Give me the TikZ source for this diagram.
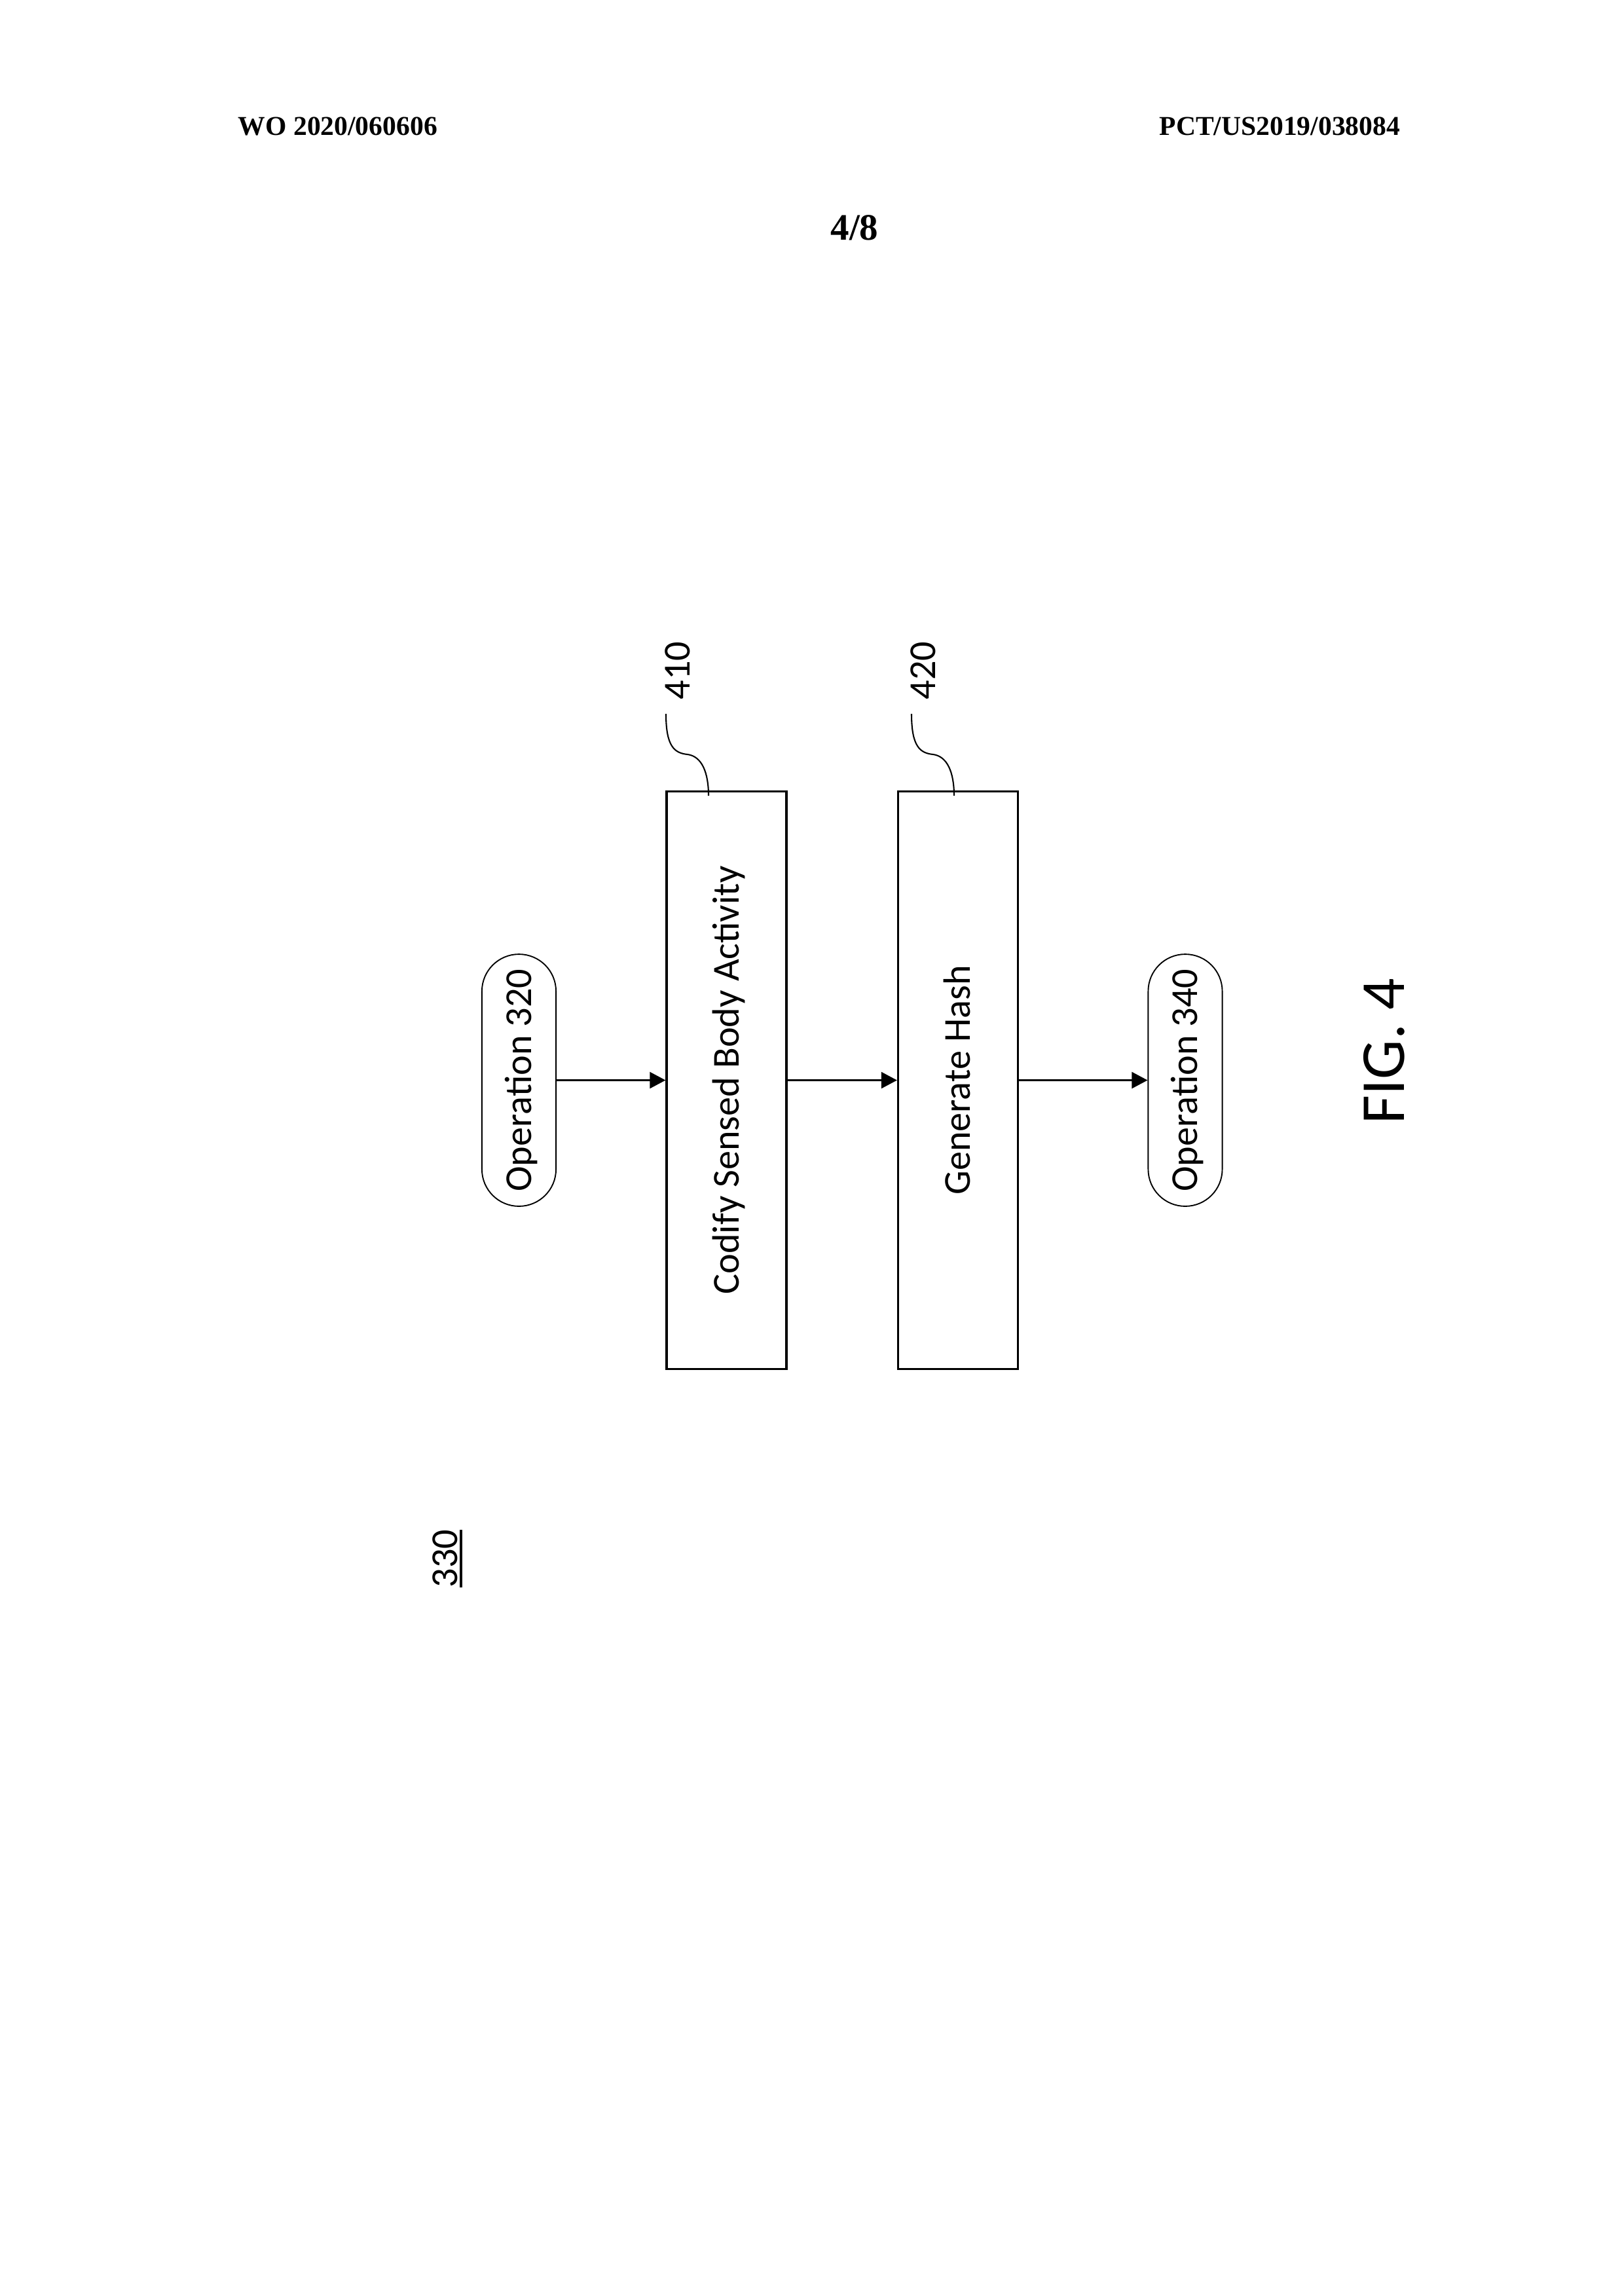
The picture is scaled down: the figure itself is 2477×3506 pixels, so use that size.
\documentclass[tikz,border=0pt]{standalone}
\usepackage{fontspec}
\setmainfont{Carlito}
\newfontfamily\hdrfont{Liberation Serif}
\usetikzlibrary{arrows.meta}

% underlined reference numeral
\newcommand{\ulnum}[1]{{\setbox0\hbox{#1}\rlap{\rule[-2pt]{\wd0}{0.95pt}}\box0}}

\tikzset{
  stepbox/.style={draw, line width=0.75pt, rotate=90, minimum width=212pt, minimum height=44pt,
    inner sep=0pt, text height=9pt, text depth=0pt},
  oppill/.style={draw, line width=0.45pt, rotate=90, rounded corners=13.6pt, minimum width=92.5pt,
    minimum height=27.2pt, inner sep=0pt, text height=9pt, text depth=0pt},
  flow/.style={-{Triangle[length=5.8pt,width=6pt]}, line width=0.65pt},
  leader/.style={line width=0.5pt},
  reflabel/.style={rotate=90, anchor=base, inner sep=0pt},
  header/.style={inner sep=0pt, font=\hdrfont\bfseries\fontsize{10pt}{12pt}\selectfont},
}

\begin{document}
\begin{tikzpicture}[x=0.24034pt, y=-0.24034pt, font=\fontsize{14pt}{17pt}\selectfont]
  \useasboundingbox (0,0) rectangle (2477,3506);

  % page header
  \node[header, anchor=base west] (wo) at (363,206) {WO 2020/060606};
  \node[header, anchor=base east] (pct) at (2139,206) {PCT/US2019/038084};
  \node[header, anchor=base, font=\hdrfont\bfseries\fontsize{13.7pt}{16pt}\selectfont] (sheet) at (1305,366) {4/8};

  % flow
  \node[oppill] (op320) at (792.5,1649.5) {Operation 320};
  \node[stepbox] (codify) at (1109.5,1649.5) {Codify Sensed Body Activity};
  \node[stepbox] (hash) at (1463,1649.5) {Generate Hash};
  \node[oppill] (op340) at (1810,1649.5) {Operation 340};

  \draw[flow] (op320.south) -- (codify.north);
  \draw[flow] (codify.south) -- (hash.north);
  \draw[flow] (hash.south) -- (op340.north);

  % reference numerals
  \node[reflabel] (n410) at (1053,1024) {410};
  \node[reflabel] (n420) at (1428,1024) {420};
  \coordinate (t410) at (1017,1090);
  \coordinate (e410) at (1082,1215);
  \coordinate (t420) at (1392,1090);
  \coordinate (e420) at (1457,1215);
  \draw[leader] (t410) .. controls (1017,1140) and (1030,1150) .. (1050,1152)
    .. controls (1072,1155) and (1082,1180) .. (e410);
  \draw[leader] (t420) .. controls (1392,1140) and (1405,1150) .. (1425,1152)
    .. controls (1447,1155) and (1457,1180) .. (e420);

  \node[reflabel] (n330) at (698,2380) {\ulnum{330}};
  \node[reflabel, font=\fontsize{23pt}{27pt}\selectfont] (fig) at (2144,1605) {FIG. 4};
\end{tikzpicture}
\end{document}
